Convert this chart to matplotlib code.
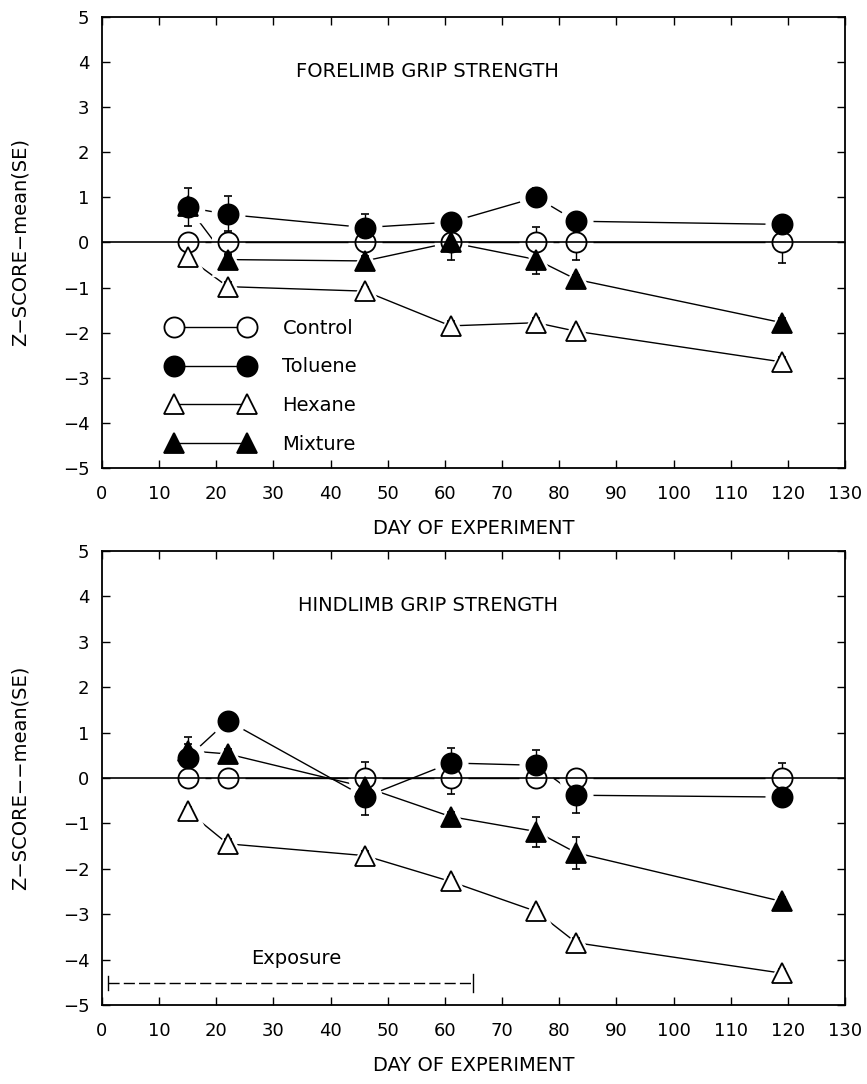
import numpy as np
import matplotlib.pyplot as plt
from matplotlib.lines import Line2D

plt.rcParams['font.family'] = ['DejaVu Sans']
plt.rcParams['axes.unicode_minus'] = True

days = [15, 22, 46, 61, 76, 83, 119]

# forelimb grip strength
fore_control = [0, 0, 0, 0, 0, 0, 0]
fore_control_se = [0.1, 0.25, 0.1, 0.38, 0.35, 0.4, 0.45]
fore_toluene = [0.78, 0.62, 0.33, 0.45, 1.0, 0.47, 0.40]
fore_toluene_se = [0.42, 0.4, 0.31, 0.1, 0.2, 0.1, 0.1]
fore_hexane = [-0.33, -0.98, -1.08, -1.85, -1.78, -1.97, -2.65]
fore_hexane_se = [0.1, 0.1, 0.1, 0.1, 0.1, 0.1, 0.1]
fore_mixture = [0.80, -0.38, -0.41, 0.0, -0.38, -0.82, -1.78]
fore_mixture_se = [0.1, 0.1, 0.1, 0.1, 0.32, 0.1, 0.1]

# hindlimb grip strength
hind_control = [0, 0, 0, 0, 0, 0, 0]
hind_control_se = [0.08, 0.1, 0.36, 0.36, 0.1, 0.08, 0.33]
hind_toluene = [0.45, 1.26, -0.42, 0.33, 0.28, -0.38, -0.42]
hind_toluene_se = [0.3, 0.1, 0.4, 0.33, 0.33, 0.39, 0.1]
hind_hexane = [-0.73, -1.45, -1.71, -2.28, -2.94, -3.63, -4.30]
hind_hexane_se = [0.1, 0.1, 0.1, 0.1, 0.1, 0.1, 0.1]
hind_mixture = [0.6, 0.53, -0.2, -0.85, -1.18, -1.65, -2.72]
hind_mixture_se = [0.3, 0.1, 0.1, 0.1, 0.33, 0.35, 0.1]

exposure_start = 1
exposure_end = 65

groups = ['Control', 'Toluene', 'Hexane', 'Mixture']
styles = {
    'Control': dict(marker='o', mfc='white', ms=14.5),
    'Toluene': dict(marker='o', mfc='black', ms=14.5),
    'Hexane': dict(marker='^', mfc='white', ms=14),
    'Mixture': dict(marker='^', mfc='black', ms=14),
}
zorders = {'Control': 0, 'Hexane': 1, 'Mixture': 2, 'Toluene': 3}


def draw_panel(ax, series, title, ylabel):
    for name in groups:
        y, se = series[name]
        st = styles[name]
        z = zorders[name]
        # connecting line
        ax.plot(days, y, '-', color='black', lw=1.0, zorder=1)
        # white halo so lines stop short of the symbols
        ax.plot(days, y, ls='none', marker=st['marker'], ms=st['ms'] + 9,
                mfc='white', mec='white', zorder=2)
        ax.errorbar(days, y, yerr=se, fmt='none', ecolor='black',
                    elinewidth=1.0, capsize=3, capthick=1.2, zorder=3 + z * 0.1)
        ax.plot(days, y, ls='none', marker=st['marker'], ms=st['ms'],
                mfc=st['mfc'], mec='black', mew=1.3, zorder=4 + z * 0.1)

    ax.axhline(0, color='black', lw=1.2, zorder=6)
    ax.set_xlim(0, 130)
    ax.set_ylim(-5, 5)
    ax.set_xticks(np.arange(0, 131, 10))
    ax.set_yticks(np.arange(-5, 6, 1))
    ax.tick_params(direction='in', top=True, right=True, length=6,
                   width=1.0, labelsize=13)
    ax.tick_params(axis='x', pad=12)
    ax.tick_params(axis='y', pad=9)
    for sp in ax.spines.values():
        sp.set_linewidth(1.3)
    ax.set_xlabel('DAY OF EXPERIMENT', fontsize=14, labelpad=12)
    ax.set_ylabel(ylabel, fontsize=14)
    ax.yaxis.set_label_coords(-0.097, 0.5)
    ax.text(57, 3.8, title, fontsize=14, ha='center', va='center')


fig = plt.figure(figsize=(8.67, 10.84), dpi=100)
ax1 = fig.add_axes([0.1176, 0.5683, 0.857, 0.4161])
ax2 = fig.add_axes([0.1176, 0.0729, 0.857, 0.4188])

fore = {
    'Control': (fore_control, fore_control_se),
    'Toluene': (fore_toluene, fore_toluene_se),
    'Hexane': (fore_hexane, fore_hexane_se),
    'Mixture': (fore_mixture, fore_mixture_se),
}
hind = {
    'Control': (hind_control, hind_control_se),
    'Toluene': (hind_toluene, hind_toluene_se),
    'Hexane': (hind_hexane, hind_hexane_se),
    'Mixture': (hind_mixture, hind_mixture_se),
}

draw_panel(ax1, fore, 'FORELIMB GRIP STRENGTH', 'Z\u2212SCORE\u2212mean(SE)')
draw_panel(ax2, hind, 'HINDLIMB GRIP STRENGTH', 'Z\u2212SCORE\u2212\u2212mean(SE)')

# legend in the top panel
handles = [Line2D([], [], color='black', lw=1.0, marker=styles[g]['marker'],
                  ms=styles[g]['ms'], mfc=styles[g]['mfc'], mec='black', mew=1.3)
           for g in groups]
ax1.legend(handles, groups, loc='upper left', bbox_to_anchor=(0.065, 0.37),
           frameon=False, numpoints=2, handlelength=4.4, labelspacing=1.02,
           handletextpad=1.5, fontsize=14)

# exposure period marker in the bottom panel
ax2.plot([exposure_start, exposure_end], [-4.52, -4.52], ls=(0, (8, 3)),
         color='black', lw=1.0)
ax2.plot([exposure_start, exposure_start], [-4.67, -4.37], color='black', lw=1.0)
ax2.plot([exposure_end, exposure_end], [-4.72, -4.32], color='black', lw=1.0)
ax2.text(34, -3.98, 'Exposure', fontsize=14, ha='center', va='center')

fig.savefig('out.png', dpi=100)
